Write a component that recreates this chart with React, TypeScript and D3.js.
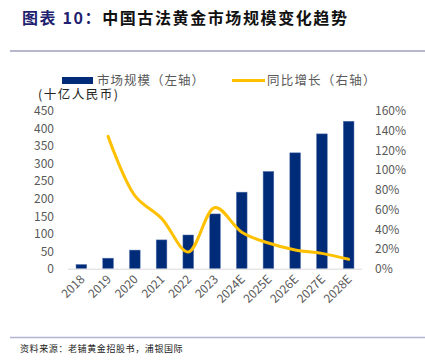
import React from 'react';
import * as d3 from 'd3';

const years = ['2018', '2019', '2020', '2021', '2022', '2023', '2024E', '2025E', '2026E', '2027E', '2028E'];
const marketSize = [12, 30, 53, 82, 96, 156, 218, 277, 330, 384, 420];
// growth in %, first year has no value
const growth: (number | null)[] = [null, 134, 74, 51, 17, 62, 37, 26, 19, 15.5, 9.5];
const leftTicks = [0, 50, 100, 150, 200, 250, 300, 350, 400, 450];
const rightTicks = [0, 20, 40, 60, 80, 100, 120, 140, 160];

const W = 425;
const H = 363;
const plot = { left: 68, right: 362, top: 110.7, bottom: 268.7 };
const font = '"Noto Sans CJK SC", "Noto Sans", sans-serif';
const tickColor = '#595959';
const barColor = '#002B78';
const lineColor = '#FFC000';

export default function App() {
  const x = d3.scaleBand<string>().domain(years).range([plot.left, plot.right]).paddingInner(0.6).paddingOuter(0.3);
  const yL = d3.scaleLinear().domain([0, 450]).range([plot.bottom, plot.top]);
  const yR = d3.scaleLinear().domain([0, 160]).range([plot.bottom, plot.top]);

  const linePts = years
    .map((y, i) => ({ y, v: growth[i] }))
    .filter((d) => d.v !== null) as { y: string; v: number }[];
  const lineGen = d3
    .line<{ y: string; v: number }>()
    .x((d) => (x(d.y) as number) + x.bandwidth() / 2)
    .y((d) => yR(d.v))
    .curve(d3.curveCatmullRom.alpha(0.5));

  return (
    <svg width={W} height={H} style={{ position: 'absolute', left: 0, top: 0, background: '#fff' }}>
      <text x={22} y={24} fontFamily={font} fontSize={16} fontWeight="bold" letterSpacing={1.6}>
        <tspan fill="#1F1F70">图表 10：</tspan>
        <tspan fill="#111">中国古法黄金市场规模变化趋势</tspan>
      </text>
      <line x1={10} x2={425} y1={51} y2={51} stroke="#6E6E9E" strokeWidth={1} />

      {/* legend */}
      <rect x={62} y={77} width={31} height={7} fill={barColor} />
      <text x={97} y={85} fontFamily={font} fontSize={12.5} letterSpacing={1} fill={tickColor}>市场规模（左轴）</text>
      <line x1={232} x2={265} y1={80.5} y2={80.5} stroke={lineColor} strokeWidth={3} />
      <text x={267} y={85} fontFamily={font} fontSize={12.5} letterSpacing={1.2} fill={tickColor}>同比增长（右轴）</text>
      <text x={38} y={99} fontFamily={font} fontSize={12.5} letterSpacing={1.5} fill="#222">(十亿人民币)</text>

      {/* left axis ticks */}
      {leftTicks.map((t) => (
        <text key={'l' + t} x={54} y={yL(t) + 4.5} textAnchor="end" fontFamily={font} fontSize={12} fill={tickColor}>
          {t}
        </text>
      ))}
      {/* right axis ticks */}
      {rightTicks.map((t) => (
        <text key={'r' + t} x={375} y={yR(t) + 4.5} fontFamily={font} fontSize={12} fill={tickColor}>
          {t}%
        </text>
      ))}

      {/* bars */}
      {years.map((y, i) => (
        <rect
          key={y}
          x={x(y)}
          y={yL(marketSize[i])}
          width={x.bandwidth()}
          height={plot.bottom - yL(marketSize[i])}
          fill={barColor}
          stroke="#5A78B0"
          strokeWidth={0.5}
        />
      ))}
      <line x1={plot.left} x2={plot.right} y1={plot.bottom + 0.5} y2={plot.bottom + 0.5} stroke="#D9D9D9" strokeWidth={1} />

      <path d={lineGen(linePts) || ''} fill="none" stroke={lineColor} strokeWidth={3} strokeLinecap="round" />

      {/* x labels */}
      {years.map((y) => {
        const cx = (x(y) as number) + x.bandwidth() / 2 + 4;
        const cy = 280;
        return (
          <text
            key={'x' + y}
            x={cx}
            y={cy}
            textAnchor="end"
            transform={`rotate(-45 ${cx} ${cy})`}
            fontFamily={font}
            fontSize={12}
            fill={tickColor}
          >
            {y}
          </text>
        );
      })}

      <line x1={10} x2={425} y1={337.5} y2={337.5} stroke="#B4B4D2" strokeWidth={1.5} />
      <text x={20} y={352} fontFamily={font} fontSize={9} letterSpacing={0.6} fill="#222">资料来源：老铺黄金招股书，浦银国际</text>
    </svg>
  );
}
